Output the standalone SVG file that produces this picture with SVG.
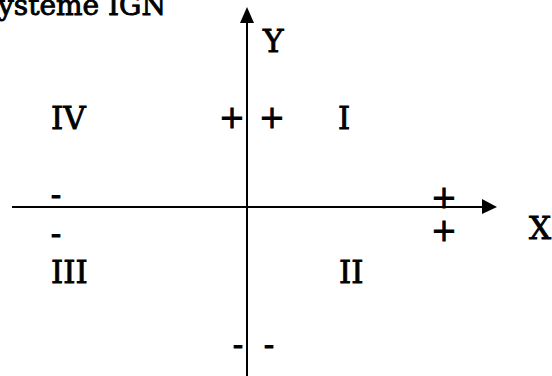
<svg xmlns="http://www.w3.org/2000/svg" width="552" height="376" viewBox="0 0 552 376">
<style>
text{font-family:"DejaVu Serif","Liberation Serif",serif;font-size:31px;fill:#000;stroke:#000;stroke-width:0.9}
.s{text-anchor:middle}
.t{font-size:28px}
.ax{stroke:#000;stroke-width:2;fill:none}
</style>
<g id="title"><text class="t" x="-2" y="15">ysteme IGN</text></g>
<g id="connectors">
<path class="ax" d="M247,376V22"/>
<path d="M240,23L247,7L254,23Z" fill="#000"/>
<path class="ax" d="M12,207H484"/>
<path d="M482,199L497,207L482,214Z" fill="#000"/>
</g>
<g id="axis-y"><text x="263" y="52">Y</text></g>
<g id="axis-x"><text x="529" y="239">X</text></g>
<g id="q1"><text x="338" y="129">I</text></g>
<g id="q2"><text x="339" y="283">II</text></g>
<g id="q3"><text x="51" y="283">III</text></g>
<g id="q4"><text x="51" y="129">IV</text></g>
<g id="signs">
<text class="s" x="232" y="128">+</text>
<text class="s" x="272" y="128">+</text>
<text class="s" x="444" y="208">+</text>
<text class="s" x="444" y="241">+</text>
<text class="s" x="56" y="205">-</text>
<text class="s" x="56" y="244">-</text>
<text class="s" x="238" y="355">-</text>
<text class="s" x="269" y="355">-</text>
</g>
</svg>
